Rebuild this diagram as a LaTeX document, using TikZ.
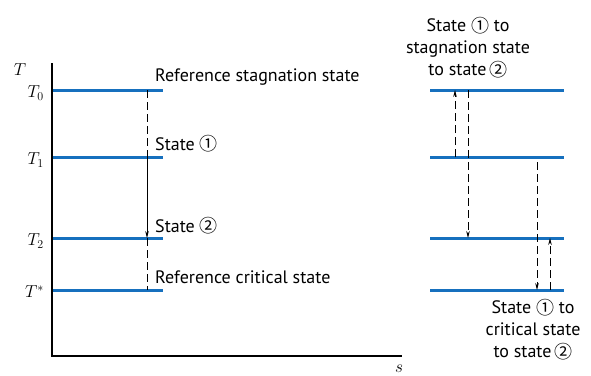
\documentclass[tikz,border=0pt]{standalone}
\usepackage{fontspec}
\setsansfont{PT Sans}
\newfontfamily\circfont{Noto Sans CJK SC}
\usetikzlibrary{arrows.meta,positioning}
\definecolor{levelblue}{RGB}{22,112,190}
\newcommand{\cone}{\raisebox{-0.05em}{{\circfont\char"2460}}}
\newcommand{\ctwo}{\raisebox{-0.05em}{{\circfont\char"2461}}}

\begin{document}
\begin{tikzpicture}[x=1pt,y=-1pt,
    level/.style={draw=levelblue, line width=3pt},
    axis/.style={draw, line width=1.2pt},
    proc/.style={draw, line width=0.8pt},
    dashline/.style={proc, dash pattern=on 8pt off 4pt},
    arrow/.style={-{Stealth[length=7pt,width=3.6pt]}},
    lbl/.style={font=\sffamily\fontsize{18}{22}\selectfont, inner sep=0pt, anchor=base west},
    note/.style={font=\sffamily\fontsize{18}{22}\selectfont, inner sep=0pt, align=center, anchor=north},
    tlab/.style={font=\fontsize{18}{20}\selectfont, inner sep=0pt, anchor=east}
]
\useasboundingbox (0,0) rectangle (591,375);

% Axes
\coordinate (origin) at (52,356);
\coordinate (ytop) at (52,63);
\coordinate (xend) at (402,356);
\draw[axis] (ytop) -- (origin) -- (xend);
\node[font=\fontsize{18}{20}\selectfont, inner sep=0pt] (ylab) at (20,70) {$T$};
\node[font=\fontsize{18}{20}\selectfont, inner sep=0pt] (xlab) at (399,369) {$s$};

% Levels, left
\coordinate (l0) at (53,90);   \coordinate (r0) at (163,90);
\coordinate (l1) at (53,157);  \coordinate (r1) at (163,157);
\coordinate (l2) at (53,238);  \coordinate (r2) at (163,238);
\coordinate (ls) at (53,290);  \coordinate (rs) at (163,290);
\foreach \k in {0,1,2,s} \draw[level] (l\k) -- (r\k);

% Levels, right
\coordinate (m0) at (430,90);   \coordinate (n0) at (564,90);
\coordinate (m1) at (430,157);  \coordinate (n1) at (564,157);
\coordinate (m2) at (430,238);  \coordinate (n2) at (564,238);
\coordinate (ms) at (430,290);  \coordinate (ns) at (564,290);
\foreach \k in {0,1,2,s} \draw[level] (m\k) -- (n\k);

% T labels
\node[tlab] (t0) at (44,93) {$T_0$};
\node[tlab] (t1) at (44,160) {$T_1$};
\node[tlab] (t2) at (44,241) {$T_2$};
\node[tlab] (ts) at (44,292) {$T^*$};

% Left process line
\coordinate (p0) at (147,90);
\coordinate (p1) at (147,157);
\coordinate (p2) at (147,238);
\coordinate (ps) at (147,290);
\draw[dashline] (p0) -- (p1);
\draw[proc, arrow] (p1) -- (p2);
\draw[dashline] (p2) -- (ps);

% State labels
\node[lbl] (refstag) at (155,81) {Reference stagnation state};
\node[lbl] (st1) at (155,150) {State \cone};
\node[lbl] (st2) at (155,232) {State \ctwo};
\node[lbl] (refcrit) at (155,283) {Reference critical state};

% Right: via stagnation state
\coordinate (a1) at (455,157);  \coordinate (a0) at (455,90);
\coordinate (b0) at (468,90);   \coordinate (b2) at (468,238);
\draw[dashline, arrow] (a1) -- (a0);
\draw[dashline, arrow] (b0) -- (b2);

% Right: via critical state
\coordinate (c1) at (537,162);  \coordinate (cs) at (537,290);
\coordinate (ds) at (550,290);  \coordinate (d2) at (550,238);
\draw[dashline, arrow] (c1) -- (cs);
\draw[dashline, arrow] (ds) -- (d2);

% Notes
\node[note] (viastag) at (468,17) {State \cone\ to\\stagnation state\\to state\,\ctwo};
\node[note] (viacrit) at (533,299) {State \cone\ to\\critical state\\to state\,\ctwo};

\end{tikzpicture}
\end{document}
